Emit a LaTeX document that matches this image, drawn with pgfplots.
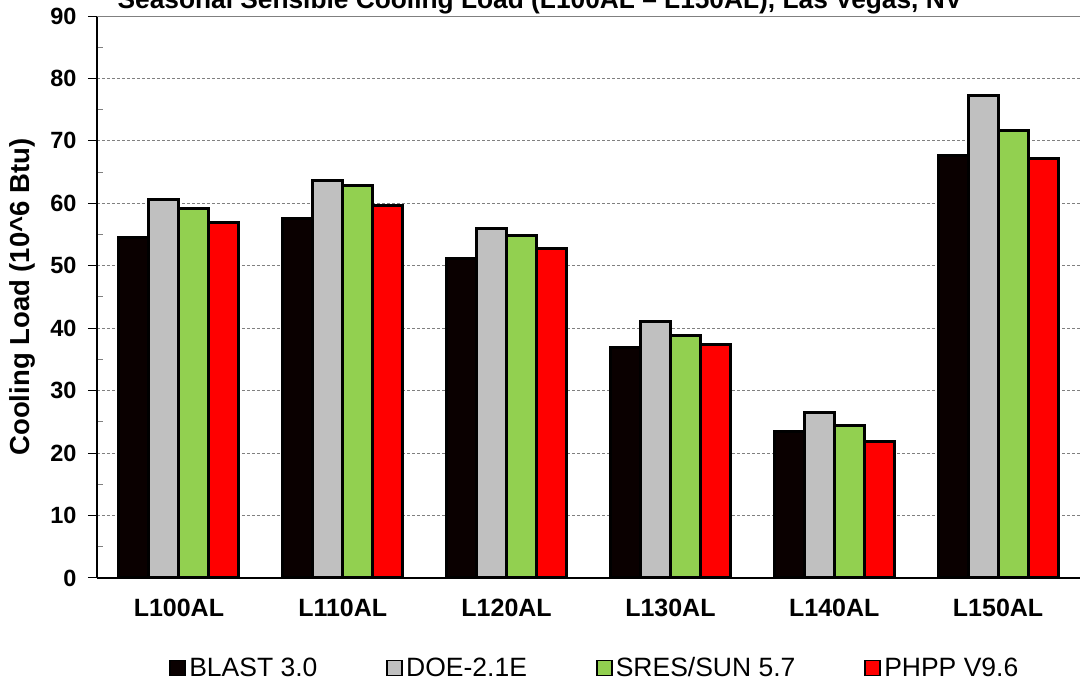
\documentclass[border=0pt]{standalone}
\usepackage{pgfplots}
\pgfplotsset{compat=1.18}
\usepackage{fontspec}
\setmainfont{Liberation Sans}

\definecolor{blastc}{HTML}{0A0000}
\definecolor{doec}{HTML}{C0C0C0}
\definecolor{sresc}{HTML}{92D050}
\definecolor{phppc}{HTML}{FF0000}

\begin{document}
\begin{tikzpicture}

\begin{axis}[
    scale only axis,
    width=983pt, height=562pt,
    ybar=0pt, bar width=30pt,
    xmin=-0.5, xmax=5.5,
    ymin=0, ymax=90,
    enlargelimits=false,
    axis x line*=bottom,
    axis y line*=left,
    axis line style={black, line width=1.3pt},
    xtick={0,1,2,3,4,5},
    xticklabels={L100AL,L110AL,L120AL,L130AL,L140AL,L150AL},
    x tick label style={font=\fontsize{25}{30}\selectfont\bfseries, yshift=-9pt},
    major x tick style={draw=none},
    extra x ticks={0.5,1.5,2.5,3.5,4.5},
    extra x tick labels={},
    extra x tick style={major tick length=7pt, tick align=outside,
        major tick style={black, line width=1pt}},
    ytick={0,10,...,90},
    minor y tick num=1,
    tick align=outside,
    major tick length=9pt,
    minor tick length=6pt,
    major y tick style={black, line width=1pt},
    minor y tick style={gray, line width=1pt, xshift=6pt},
    y tick label style={font=\fontsize{23.5}{28}\selectfont\bfseries, xshift=-8pt},
    /pgf/number format/assume math mode=true,
    ymajorgrids,
    major y grid style={gray, densely dashed, line width=0.8pt},
    ylabel={\fontsize{27.5}{32}\selectfont\bfseries Cooling Load (10\textasciicircum6 Btu)},
    ylabel style={at={(axis description cs:-0.076,0.5)}, anchor=center},
    legend columns=4,
    legend style={
        draw=none, fill=none,
        at={(0.507,-0.160)}, anchor=center,
        font=\fontsize{26.5}{30}\selectfont,
        /tikz/every even column/.append style={column sep=66pt},
        nodes={inner xsep=3pt},
    },
    legend image code/.code={
        \draw[#1, line width=1.8pt] (0pt,-7.5pt) rectangle (15pt,7.5pt);
    },
    every axis plot/.append style={draw=black, line width=3pt},
]

\addplot[fill=blastc] coordinates {(0,54.6) (1,57.6) (2,51.1) (3,36.9) (4,23.5) (5,67.6)};
\addplot[fill=doec]   coordinates {(0,60.6) (1,63.6) (2,55.9) (3,41.1) (4,26.5) (5,77.2)};
\addplot[fill=sresc]  coordinates {(0,59.2) (1,62.9) (2,54.8) (3,38.8) (4,24.5) (5,71.7)};
\addplot[fill=phppc]  coordinates {(0,56.9) (1,59.6) (2,52.8) (3,37.4) (4,21.8) (5,67.2)};

\legend{BLAST 3.0,DOE-2.1E,SRES/SUN 5.7,PHPP V9.6}

\draw[gray, line width=2pt] (rel axis cs:0,1) -- (rel axis cs:1,1);

\end{axis}

\node[anchor=base, font=\fontsize{26.3}{30}\selectfont\bfseries] at (443pt,569pt)
    {Seasonal Sensible Cooling Load (L100AL – L150AL), Las Vegas, NV};

\pgfresetboundingbox
\path[use as bounding box] (-97pt,-112pt) rectangle (983pt,578pt);
\end{tikzpicture}
\end{document}
